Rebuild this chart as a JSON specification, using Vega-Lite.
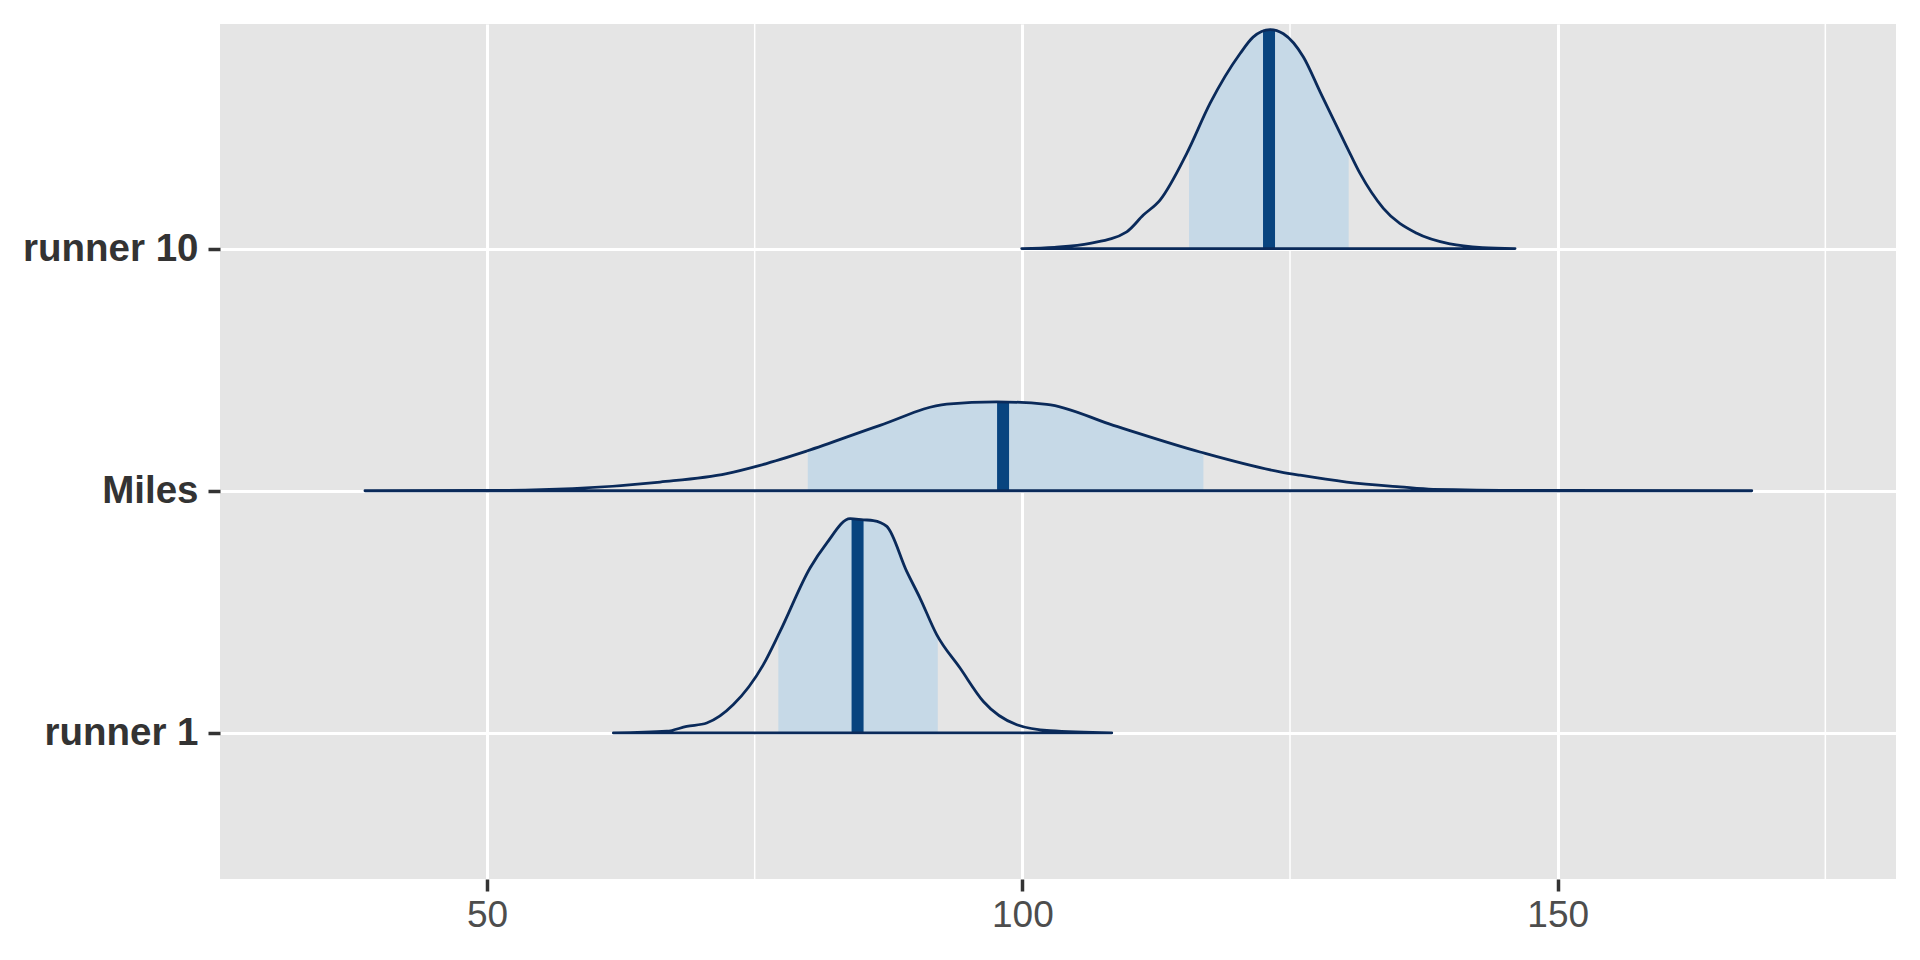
{
  "$schema": "https://vega.github.io/schema/vega-lite/v6.json",
  "width": 1676,
  "height": 855,
  "autosize": {"type": "none"},
  "padding": {"left": 220, "top": 24, "right": 24, "bottom": 81},
  "background": "white",
  "config": {
    "view": {"fill": "#e5e5e5", "stroke": null},
    "font": "Liberation Sans"
  },
  "datasets": {
    "dens": [
      {"param": "runner 10", "pos": 3, "x": 99.94, "top": 3.0},
      {"param": "runner 10", "pos": 3, "x": 103.0, "top": 3.005},
      {"param": "runner 10", "pos": 3, "x": 106.32, "top": 3.021},
      {"param": "runner 10", "pos": 3, "x": 109.75, "top": 3.069},
      {"param": "runner 10", "pos": 3, "x": 111.3, "top": 3.138},
      {"param": "runner 10", "pos": 3, "x": 112.86, "top": 3.2},
      {"param": "runner 10", "pos": 3, "x": 115.36, "top": 3.393},
      {"param": "runner 10", "pos": 3, "x": 117.53, "top": 3.599},
      {"param": "runner 10", "pos": 3, "x": 120.34, "top": 3.805},
      {"param": "runner 10", "pos": 3, "x": 121.55, "top": 3.873},
      {"param": "runner 10", "pos": 3, "x": 123.14, "top": 3.904},
      {"param": "runner 10", "pos": 3, "x": 124.38, "top": 3.887},
      {"param": "runner 10", "pos": 3, "x": 126.25, "top": 3.791},
      {"param": "runner 10", "pos": 3, "x": 127.81, "top": 3.647},
      {"param": "runner 10", "pos": 3, "x": 130.3, "top": 3.42},
      {"param": "runner 10", "pos": 3, "x": 131.54, "top": 3.31},
      {"param": "runner 10", "pos": 3, "x": 133.72, "top": 3.166},
      {"param": "runner 10", "pos": 3, "x": 136.84, "top": 3.063},
      {"param": "runner 10", "pos": 3, "x": 139.95, "top": 3.019},
      {"param": "runner 10", "pos": 3, "x": 143.0, "top": 3.004},
      {"param": "runner 10", "pos": 3, "x": 146.02, "top": 3.0},
      {"param": "Miles", "pos": 2, "x": 38.6, "top": 2.0},
      {"param": "Miles", "pos": 2, "x": 50.0, "top": 2.001},
      {"param": "Miles", "pos": 2, "x": 58.0, "top": 2.009},
      {"param": "Miles", "pos": 2, "x": 66.16, "top": 2.036},
      {"param": "Miles", "pos": 2, "x": 72.39, "top": 2.071},
      {"param": "Miles", "pos": 2, "x": 75.5, "top": 2.105},
      {"param": "Miles", "pos": 2, "x": 79.86, "top": 2.164},
      {"param": "Miles", "pos": 2, "x": 86.71, "top": 2.27},
      {"param": "Miles", "pos": 2, "x": 92.94, "top": 2.358},
      {"param": "Miles", "pos": 2, "x": 97.61, "top": 2.367},
      {"param": "Miles", "pos": 2, "x": 102.28, "top": 2.357},
      {"param": "Miles", "pos": 2, "x": 108.5, "top": 2.27},
      {"param": "Miles", "pos": 2, "x": 116.6, "top": 2.16},
      {"param": "Miles", "pos": 2, "x": 124.07, "top": 2.078},
      {"param": "Miles", "pos": 2, "x": 125.94, "top": 2.064},
      {"param": "Miles", "pos": 2, "x": 130.3, "top": 2.036},
      {"param": "Miles", "pos": 2, "x": 135.28, "top": 2.016},
      {"param": "Miles", "pos": 2, "x": 138.36, "top": 2.006},
      {"param": "Miles", "pos": 2, "x": 150.0, "top": 2.001},
      {"param": "Miles", "pos": 2, "x": 168.13, "top": 2.0},
      {"param": "runner 1", "pos": 1, "x": 61.8, "top": 1.0},
      {"param": "runner 1", "pos": 1, "x": 66.79, "top": 1.007},
      {"param": "runner 1", "pos": 1, "x": 68.65, "top": 1.027},
      {"param": "runner 1", "pos": 1, "x": 70.52, "top": 1.041},
      {"param": "runner 1", "pos": 1, "x": 73.01, "top": 1.117},
      {"param": "runner 1", "pos": 1, "x": 75.81, "top": 1.282},
      {"param": "runner 1", "pos": 1, "x": 77.37, "top": 1.419},
      {"param": "runner 1", "pos": 1, "x": 80.17, "top": 1.681},
      {"param": "runner 1", "pos": 1, "x": 81.73, "top": 1.784},
      {"param": "runner 1", "pos": 1, "x": 83.91, "top": 1.885},
      {"param": "runner 1", "pos": 1, "x": 85.15, "top": 1.88},
      {"param": "runner 1", "pos": 1, "x": 86.08, "top": 1.877},
      {"param": "runner 1", "pos": 1, "x": 87.34, "top": 1.853},
      {"param": "runner 1", "pos": 1, "x": 89.2, "top": 1.667},
      {"param": "runner 1", "pos": 1, "x": 90.44, "top": 1.557},
      {"param": "runner 1", "pos": 1, "x": 92.0, "top": 1.406},
      {"param": "runner 1", "pos": 1, "x": 94.18, "top": 1.268},
      {"param": "runner 1", "pos": 1, "x": 96.36, "top": 1.13},
      {"param": "runner 1", "pos": 1, "x": 99.48, "top": 1.034},
      {"param": "runner 1", "pos": 1, "x": 102.59, "top": 1.009},
      {"param": "runner 1", "pos": 1, "x": 108.35, "top": 1.0}
    ],
    "band": [
      {"param": "runner 10", "pos": 3, "x": 115.57, "top": 3.413},
      {"param": "runner 10", "pos": 3, "x": 117.53, "top": 3.599},
      {"param": "runner 10", "pos": 3, "x": 120.34, "top": 3.805},
      {"param": "runner 10", "pos": 3, "x": 121.55, "top": 3.873},
      {"param": "runner 10", "pos": 3, "x": 123.14, "top": 3.904},
      {"param": "runner 10", "pos": 3, "x": 124.38, "top": 3.887},
      {"param": "runner 10", "pos": 3, "x": 126.25, "top": 3.791},
      {"param": "runner 10", "pos": 3, "x": 127.81, "top": 3.647},
      {"param": "runner 10", "pos": 3, "x": 130.3, "top": 3.42},
      {"param": "runner 10", "pos": 3, "x": 130.48, "top": 3.404},
      {"param": "Miles", "pos": 2, "x": 79.96, "top": 2.165},
      {"param": "Miles", "pos": 2, "x": 86.71, "top": 2.27},
      {"param": "Miles", "pos": 2, "x": 92.94, "top": 2.358},
      {"param": "Miles", "pos": 2, "x": 97.61, "top": 2.367},
      {"param": "Miles", "pos": 2, "x": 102.28, "top": 2.357},
      {"param": "Miles", "pos": 2, "x": 108.5, "top": 2.27},
      {"param": "Miles", "pos": 2, "x": 116.6, "top": 2.16},
      {"param": "Miles", "pos": 2, "x": 116.91, "top": 2.157},
      {"param": "runner 1", "pos": 1, "x": 77.21, "top": 1.41},
      {"param": "runner 1", "pos": 1, "x": 77.37, "top": 1.419},
      {"param": "runner 1", "pos": 1, "x": 80.17, "top": 1.681},
      {"param": "runner 1", "pos": 1, "x": 81.73, "top": 1.784},
      {"param": "runner 1", "pos": 1, "x": 83.91, "top": 1.885},
      {"param": "runner 1", "pos": 1, "x": 85.15, "top": 1.88},
      {"param": "runner 1", "pos": 1, "x": 86.08, "top": 1.877},
      {"param": "runner 1", "pos": 1, "x": 87.34, "top": 1.853},
      {"param": "runner 1", "pos": 1, "x": 89.2, "top": 1.667},
      {"param": "runner 1", "pos": 1, "x": 90.44, "top": 1.557},
      {"param": "runner 1", "pos": 1, "x": 92.0, "top": 1.406},
      {"param": "runner 1", "pos": 1, "x": 92.1, "top": 1.4}
    ],
    "median": [
      {"param": "runner 10", "pos": 3, "x": 123.04, "top": 3.903},
      {"param": "Miles", "pos": 2, "x": 98.2, "top": 2.366},
      {"param": "runner 1", "pos": 1, "x": 84.61, "top": 1.882}
    ],
    "minor": [{"v": 75}, {"v": 125}, {"v": 175}]
  },
  "layer": [
    {
      "data": {"name": "minor"},
      "mark": {"type": "rule", "color": "white", "strokeWidth": 1.5},
      "encoding": {
        "x": {
          "field": "v",
          "type": "quantitative",
          "scale": {"domain": [25.06, 181.6], "nice": false, "zero": false},
          "axis": {
            "values": [50, 100, 150],
            "title": null,
            "domain": false,
            "grid": true,
            "gridColor": "white",
            "gridWidth": 3,
            "ticks": true,
            "tickColor": "#333333",
            "tickSize": 12,
            "tickWidth": 3.5,
            "labelFont": "Liberation Sans",
            "labelFontSize": 37,
            "labelColor": "#4d4d4d",
            "labelPadding": 6
          }
        }
      }
    },
    {
      "data": {"name": "band"},
      "mark": {"type": "area", "color": "#c6d9e7", "interpolate": "monotone", "opacity": 1},
      "encoding": {
        "x": {"field": "x", "type": "quantitative"},
        "y": {
          "field": "top",
          "type": "quantitative",
          "scale": {"domain": [0.397, 3.927], "nice": false, "zero": false},
          "axis": {
            "values": [1, 2, 3],
            "title": null,
            "domain": false,
            "grid": true,
            "gridColor": "white",
            "gridWidth": 3,
            "tickColor": "#333333",
            "tickSize": 12,
            "tickWidth": 3.5,
            "labelFont": "Liberation Sans",
            "labelFontSize": 38.5,
            "labelFontWeight": "bold",
            "labelColor": "#333333",
            "labelPadding": 10,
            "labelExpr": "datum.value == 1 ? 'runner 1' : datum.value == 2 ? 'Miles' : 'runner 10'"
          }
        },
        "y2": {"field": "pos"},
        "detail": {"field": "param"}
      }
    },
    {
      "data": {"name": "median"},
      "mark": {"type": "rule", "color": "#08447f", "strokeWidth": 12},
      "encoding": {
        "x": {"field": "x", "type": "quantitative"},
        "y": {"field": "pos", "type": "quantitative"},
        "y2": {"field": "top"}
      }
    },
    {
      "data": {"name": "dens"},
      "mark": {"type": "area", "fillOpacity": 0, "stroke": "#0a2a5a", "strokeWidth": 2.8, "interpolate": "monotone", "strokeJoin": "round"},
      "encoding": {
        "x": {"field": "x", "type": "quantitative"},
        "y": {"field": "top", "type": "quantitative"},
        "y2": {"field": "pos"},
        "detail": {"field": "param"}
      }
    }
  ]
}
